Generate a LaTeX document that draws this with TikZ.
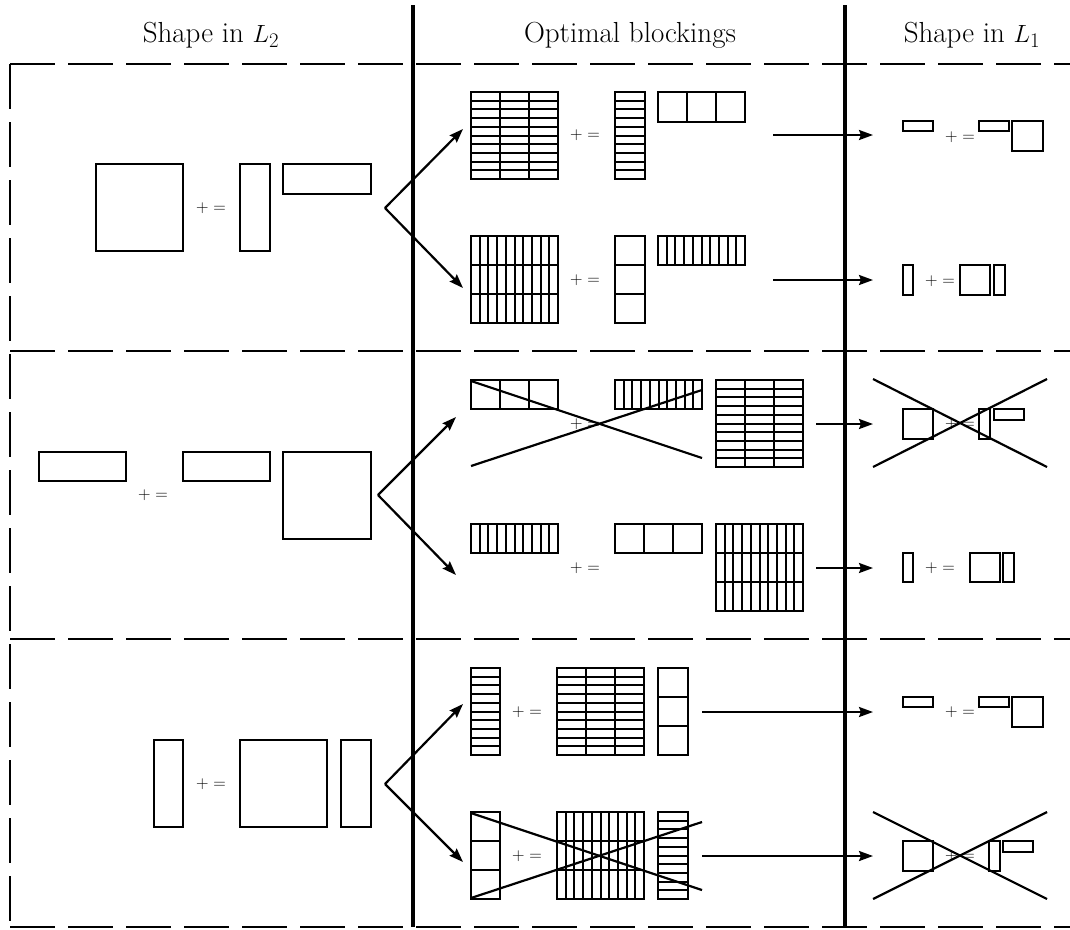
\documentclass[tikz,border=0pt]{standalone}
\usepackage{tikz}
\usetikzlibrary{arrows.meta}
\tikzset{
  sep/.style={line width=3.2pt},
  frame/.style={line width=2.6pt, dash pattern=on 45pt off 13pt},
  blk/.style={line width=2.8pt},
  arr/.style={line width=2.2pt, -{Stealth[length=14pt,width=10pt,inset=2pt]}},
  xout/.style={line width=2.2pt},
  head/.style={font=\fontsize{29}{34}\selectfont},
  pe/.style={font=\fontsize{17}{20}\selectfont, inner sep=0pt}
}
% box at (#1,#2), size #3 x #4, split into #5 columns and #6 rows
\newcommand{\cells}[6]{%
  \ifnum#5>3 \def\cw{2pt}\else\def\cw{2.8pt}\fi
  \ifnum#6>3 \def\rw{2pt}\else\def\rw{2.8pt}\fi
  \foreach \i in {0,...,#5}{ \draw[line width=\cw] ({#1+\i*#3/#5},#2) -- ++(0,#4); }
  \foreach \j in {0,...,#6}{ \draw[line width=\rw] (#1,{#2+\j*#4/#6}) -- ++(#3,0); }
  \draw[blk] (#1,#2) rectangle ++(#3,#4);}
\newcommand{\pe}[3]{\node[pe] (#1) at (#2,#3) {$+=$};}

\begin{document}
\begin{tikzpicture}[x=1pt, y=-1pt, line cap=butt, line join=miter]
\useasboundingbox (0,0) rectangle (1070,929);

% ------------------------------------------------------------------
% Column headers and frame
% ------------------------------------------------------------------
\node[head] (hL2) at (211,35) {Shape in $L_2$};
\node[head] (hopt) at (630,35) {Optimal blockings};
\node[head] (hL1) at (972,35) {Shape in $L_1$};

\draw[sep] (413,5) -- (413,927);
\draw[sep] (845,5) -- (845,927);
\foreach \y in {64,351,639,927}{ \draw[frame] (10,\y) -- (1070,\y); }
\draw[frame] (10,64) -- (10,927);

% ------------------------------------------------------------------
% Row 1
% ------------------------------------------------------------------
\cells{96}{164}{87}{87}{1}{1}
\pe{pa1}{211}{208}
\cells{240}{164}{30}{87}{1}{1}
\cells{283}{164}{88}{30}{1}{1}

\cells{471}{92}{87}{87}{3}{10}
\pe{pb1}{585}{135}
\cells{615}{92}{30}{87}{1}{10}
\cells{658}{92}{87}{30}{3}{1}

\cells{471}{236}{87}{87}{10}{3}
\pe{pc1}{585}{280}
\cells{615}{236}{30}{87}{1}{3}
\cells{658}{236}{87}{29}{10}{1}

\cells{903}{121}{30}{10}{1}{1}
\pe{pd1}{960}{137}
\cells{979}{121}{30}{10}{1}{1}
\cells{1012}{121}{31}{30}{1}{1}

\cells{903}{265}{10}{30}{1}{1}
\pe{pe1}{940}{281}
\cells{960}{265}{30}{30}{1}{1}
\cells{994}{265}{11}{30}{1}{1}

\coordinate (fork1) at (385,208);
\coordinate (up1) at (463,129);
\coordinate (dn1) at (463,288);
\coordinate (o1a) at (773,135); \coordinate (i1a) at (873,135);
\coordinate (o1b) at (773,280); \coordinate (i1b) at (873,280);
\draw[arr] (fork1) -- (up1);
\draw[arr] (fork1) -- (dn1);
\draw[arr] (o1a) -- (i1a);
\draw[arr] (o1b) -- (i1b);

% ------------------------------------------------------------------
% Row 2
% ------------------------------------------------------------------
\cells{39}{452}{87}{29}{1}{1}
\pe{pa2}{153}{495}
\cells{183}{452}{87}{29}{1}{1}
\cells{283}{452}{88}{87}{1}{1}

\cells{471}{380}{87}{29}{3}{1}
\pe{pb2}{585}{424}
\cells{615}{380}{87}{29}{10}{1}
\cells{716}{380}{87}{87}{3}{10}
\draw[xout] (471,381) -- (702,458);
\draw[xout] (471,466) -- (702,390);

\cells{471}{524}{87}{29}{10}{1}
\pe{pc2}{585}{568}
\cells{615}{524}{87}{29}{3}{1}
\cells{716}{524}{87}{87}{10}{3}

\cells{903}{409}{30}{30}{1}{1}
\pe{pd2}{960}{424}
\cells{979}{409}{11}{30}{1}{1}
\cells{994}{409}{30}{11}{1}{1}
\draw[xout] (873,379) -- (1047,467);
\draw[xout] (873,467) -- (1047,379);

\cells{903}{553}{10}{29}{1}{1}
\pe{pe2}{940}{568}
\cells{970}{553}{30}{29}{1}{1}
\cells{1003}{553}{11}{29}{1}{1}

\coordinate (fork2) at (378,495);
\coordinate (up2) at (456,417);
\coordinate (dn2) at (456,575);
\coordinate (o2a) at (816,424); \coordinate (i2a) at (873,424);
\coordinate (o2b) at (816,568); \coordinate (i2b) at (873,568);
\draw[arr] (fork2) -- (up2);
\draw[arr] (fork2) -- (dn2);
\draw[arr] (o2a) -- (i2a);
\draw[arr] (o2b) -- (i2b);

% ------------------------------------------------------------------
% Row 3
% ------------------------------------------------------------------
\cells{154}{740}{29}{87}{1}{1}
\pe{pa3}{211}{784}
\cells{240}{740}{87}{87}{1}{1}
\cells{341}{740}{30}{87}{1}{1}

\cells{471}{668}{29}{87}{1}{10}
\pe{pb3}{527}{712}
\cells{557}{668}{87}{87}{3}{10}
\cells{658}{668}{30}{87}{1}{3}

\cells{471}{812}{29}{87}{1}{3}
\pe{pc3}{527}{856}
\cells{557}{812}{87}{87}{10}{3}
\cells{658}{812}{30}{87}{1}{10}
\draw[xout] (471,813) -- (702,890);
\draw[xout] (471,898) -- (702,822);

\cells{903}{697}{30}{10}{1}{1}
\pe{pd3}{960}{712}
\cells{979}{697}{30}{10}{1}{1}
\cells{1012}{697}{31}{30}{1}{1}

\cells{903}{841}{30}{30}{1}{1}
\pe{pe3}{960}{856}
\cells{989}{841}{11}{30}{1}{1}
\cells{1003}{841}{30}{11}{1}{1}
\draw[xout] (873,812) -- (1047,899);
\draw[xout] (873,899) -- (1047,812);

\coordinate (fork3) at (385,784);
\coordinate (up3) at (463,704);
\coordinate (dn3) at (463,862);
\coordinate (o3a) at (702,712); \coordinate (i3a) at (873,712);
\coordinate (o3b) at (702,856); \coordinate (i3b) at (873,856);
\draw[arr] (fork3) -- (up3);
\draw[arr] (fork3) -- (dn3);
\draw[arr] (o3a) -- (i3a);
\draw[arr] (o3b) -- (i3b);

\end{tikzpicture}
\end{document}
